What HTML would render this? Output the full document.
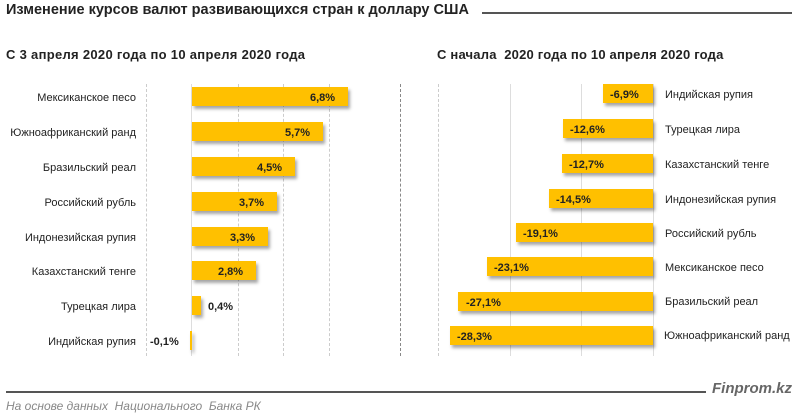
<!DOCTYPE html><html><head><meta charset="utf-8"><style>
body{margin:0;width:800px;height:416px;background:#fff;position:relative;overflow:hidden;font-family:"Liberation Sans","DejaVu Sans",sans-serif;color:#222}
div{position:absolute}
.g{border-left:1px dashed #ccc;top:84px;height:272px;width:0}
.b{background:#FFC000;height:19px;box-shadow:2px 3px 3px rgba(0,0,0,.35)}
.l{font-size:11px;white-space:nowrap;line-height:12px}
.v{font-size:11px;font-weight:bold;white-space:nowrap;line-height:12px}
</style></head><body>
<div style="left:6px;top:2px;font-size:14.5px;font-weight:bold;color:#222;white-space:nowrap">Изменение курсов валют развивающихся стран к доллару США</div>
<div style="left:482px;top:12px;width:310px;height:2px;background:#555"></div>
<div style="left:6px;top:47px;font-size:13px;font-weight:bold;white-space:nowrap;letter-spacing:0.3px">С 3 апреля 2020 года по 10 апреля 2020 года</div>
<div style="left:437px;top:47px;font-size:13px;font-weight:bold;white-space:nowrap;letter-spacing:0.2px">С начала &nbsp;2020 года по 10 апреля 2020 года</div>
<div class="g" style="left:146px"></div><div class="g" style="left:238px"></div><div class="g" style="left:283px"></div><div class="g" style="left:329px"></div><div class="g" style="left:400px;border-color:#888"></div>
<div class="g" style="left:191px;border-left:1px solid #ddd"></div>
<div class="g" style="left:438px"></div><div class="g" style="left:510px;border-left:1px solid #ddd"></div><div class="g" style="left:581px;border-left:1px solid #ddd"></div><div class="g" style="left:653px;border-left:1px solid #ddd"></div>

<div class="l" style="right:664px;top:92px">Мексиканское песо</div><div class="b" style="left:192px;top:87px;width:156px"></div><div class="v" style="left:310px;top:92px">6,8%</div>
<div class="l" style="right:664px;top:127px">Южноафриканский ранд</div><div class="b" style="left:192px;top:122px;width:131px"></div><div class="v" style="left:285px;top:127px">5,7%</div>
<div class="l" style="right:664px;top:162px">Бразильский реал</div><div class="b" style="left:192px;top:157px;width:103px"></div><div class="v" style="left:257px;top:162px">4,5%</div>
<div class="l" style="right:664px;top:197px">Российский рубль</div><div class="b" style="left:192px;top:192px;width:85px"></div><div class="v" style="left:239px;top:197px">3,7%</div>
<div class="l" style="right:664px;top:232px">Индонезийская рупия</div><div class="b" style="left:192px;top:227px;width:76px"></div><div class="v" style="left:230px;top:232px">3,3%</div>
<div class="l" style="right:664px;top:266px">Казахстанский тенге</div><div class="b" style="left:192px;top:261px;width:64px"></div><div class="v" style="left:218px;top:266px">2,8%</div>
<div class="l" style="right:664px;top:301px">Турецкая лира</div><div class="b" style="left:192px;top:296px;width:9px"></div><div class="v" style="left:208px;top:301px">0,4%</div>
<div class="l" style="right:664px;top:336px">Индийская рупия</div><div class="b" style="left:190px;top:331px;width:2px"></div><div class="v" style="left:150px;top:336px">-0,1%</div>

<div class="b" style="left:603px;top:84px;width:50px"></div><div class="v" style="left:610px;top:89px">-6,9%</div><div class="l" style="left:665px;top:89px">Индийская рупия</div>
<div class="b" style="left:563px;top:119px;width:90px"></div><div class="v" style="left:570px;top:124px">-12,6%</div><div class="l" style="left:665px;top:124px">Турецкая лира</div>
<div class="b" style="left:562px;top:154px;width:91px"></div><div class="v" style="left:569px;top:159px">-12,7%</div><div class="l" style="left:665px;top:159px">Казахстанский тенге</div>
<div class="b" style="left:549px;top:189px;width:104px"></div><div class="v" style="left:556px;top:194px">-14,5%</div><div class="l" style="left:665px;top:194px">Индонезийская рупия</div>
<div class="b" style="left:516px;top:223px;width:137px"></div><div class="v" style="left:523px;top:228px">-19,1%</div><div class="l" style="left:665px;top:228px">Российский рубль</div>
<div class="b" style="left:487px;top:257px;width:166px"></div><div class="v" style="left:494px;top:262px">-23,1%</div><div class="l" style="left:665px;top:262px">Мексиканское песо</div>
<div class="b" style="left:458px;top:292px;width:195px"></div><div class="v" style="left:466px;top:297px">-27,1%</div><div class="l" style="left:665px;top:296px">Бразильский реал</div>
<div class="b" style="left:450px;top:326px;width:203px"></div><div class="v" style="left:457px;top:331px">-28,3%</div><div class="l" style="left:664px;top:330px">Южноафриканский ранд</div>

<div style="left:6px;top:391px;width:700px;height:2px;background:#555"></div>
<div style="left:712px;top:380px;font-size:15px;font-weight:bold;font-style:italic;color:#666">Finprom.kz</div>
<div style="left:6px;top:399px;font-size:12px;font-style:italic;color:#888;white-space:nowrap">На основе данных &nbsp;Национального &nbsp;Банка РК</div>
</body></html>
